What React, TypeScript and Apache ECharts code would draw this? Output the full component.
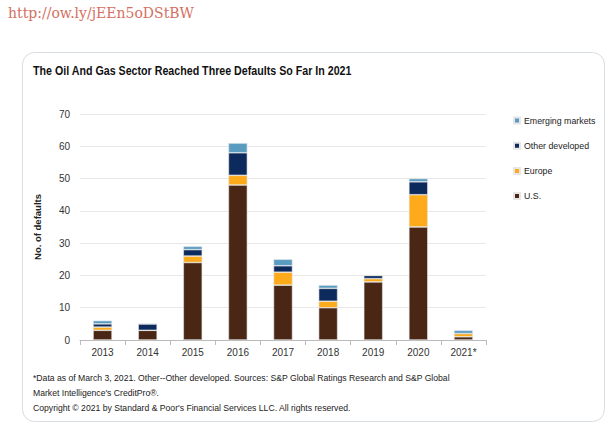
import React, { useEffect, useRef } from "react";
import * as echarts from "echarts";

const categories = ["2013", "2014", "2015", "2016", "2017", "2018", "2019", "2020", "2021*"];
const usValues = [3, 3, 24, 48, 17, 10, 18, 35, 1];
const europeValues = [1, 0, 2, 3, 4, 2, 1, 10, 1];
const otherDevValues = [1, 2, 2, 7, 2, 4, 1, 4, 0];
const emergingValues = [1, 0, 1, 3, 2, 1, 0, 1, 1];
const yTicks = [0, 10, 20, 30, 40, 50, 60, 70];

const FONT = "'Liberation Sans', Arial, Helvetica, sans-serif";

export default function App() {
  const ref = useRef<HTMLDivElement>(null);
  useEffect(() => {
    if (!ref.current) return;
    const chart = echarts.init(ref.current, undefined, { renderer: "svg" });
    const mk = (name: string, data: number[], color: string) => ({
      name,
      type: "bar",
      stack: "total",
      data,
      barWidth: "42%",
      itemStyle: { color, borderColor: "#e6e6e6", borderWidth: 0.6 },
    });
    chart.setOption({
      animation: false,
      backgroundColor: "#ffffff",
      textStyle: { fontFamily: FONT },
      graphic: [
        {
          type: "rect",
          shape: { x: 22.5, y: 52.5, width: 582, height: 369, r: 12 },
          style: { fill: "#ffffff", stroke: "#d8dde2", lineWidth: 1 },
          z: -10,
        },
        {
          type: "text",
          left: 8,
          top: 6,
          style: { text: "http://ow.ly/jEEn5oDStBW", fill: "#d4705f", font: "14px 'DejaVu Serif', Georgia, serif" },
        },
        {
          type: "text",
          x: 33,
          y: 65,
          scaleX: 0.89,
          style: { text: "The Oil And Gas Sector Reached Three Defaults So Far In 2021", fill: "#111", font: `bold 12px ${FONT}` },
        },
        {
          type: "text",
          x: 33,
          y: 370,
          scaleX: 0.96,
          style: {
            text: "*Data as of March 3, 2021. Other--Other developed. Sources: S&P Global Ratings Research and S&P Global\nMarket Intelligence's CreditPro®.\nCopyright © 2021 by Standard & Poor's Financial Services LLC. All rights reserved.",
            fill: "#222",
            font: `9px ${FONT}`,
            lineHeight: 15,
          },
        },
      ],
      legend: {
        orient: "vertical",
        left: 508,
        top: 111,
        itemWidth: 6,
        itemHeight: 6,
        itemGap: 16.2,
        icon: "rect",
        data: ["Emerging markets", "Other developed", "Europe", "U.S."],
        textStyle: { fontSize: 8.8, color: "#222", fontFamily: FONT, padding: [0, 0, 0, -1] },
      },
      grid: { left: 80, right: 125, top: 114, bottom: 88 },
      xAxis: {
        type: "category",
        data: categories,
        axisLine: { lineStyle: { color: "#bbbbbb" } },
        axisTick: { show: true, lineStyle: { color: "#bbbbbb" } },
        axisLabel: { color: "#333", fontSize: 10, margin: 7 },
      },
      yAxis: {
        type: "value",
        min: yTicks[0],
        max: yTicks[yTicks.length - 1],
        interval: 10,
        name: "No. of defaults",
        nameLocation: "middle",
        nameGap: 38,
        nameTextStyle: { fontWeight: "bold", fontSize: 9.5, color: "#222" },
        axisLine: { show: false },
        axisTick: { show: false },
        axisLabel: { color: "#333", fontSize: 10, margin: 10 },
        splitLine: { lineStyle: { color: "#e8e8e8" } },
      },
      series: [
        mk("U.S.", usValues, "#4a2614"),
        mk("Europe", europeValues, "#fdab1b"),
        mk("Other developed", otherDevValues, "#0c2b5c"),
        mk("Emerging markets", emergingValues, "#5a9bc0"),
      ],
    });
    return () => chart.dispose();
  }, []);
  return (
    <div
      ref={ref}
      style={{ position: "fixed", left: 0, top: 0, width: 611, height: 428 }}
    />
  );
}
